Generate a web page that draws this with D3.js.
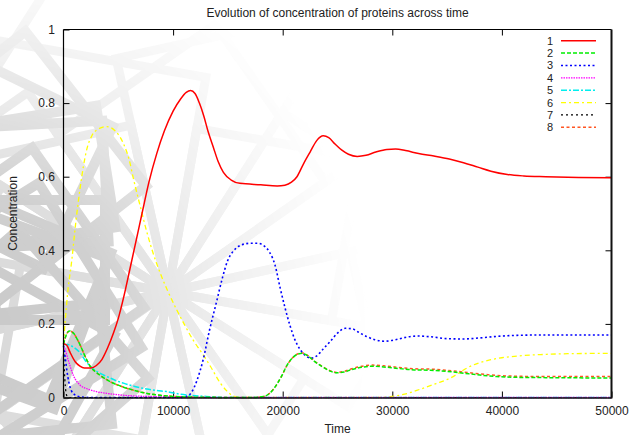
<!DOCTYPE html>
<html>
<head>
<meta charset="utf-8">
<script src="https://cdn.jsdelivr.net/npm/d3@7"></script>
<style>
  html, body { margin: 0; padding: 0; background: #fff; }
  svg { display: block; font-family: "Liberation Sans", Arial, sans-serif; }
</style>
</head>
<body>
<svg id="chart" width="631" height="435"></svg>
<script>
// ---- data: protein concentrations sampled over time, [time, concentration] ----
const seriesNames = ["1", "2", "3", "4", "5", "6", "7", "8"];

const p1 = [[0,0.146],[300,0.142],[610,0.122],[1070,0.097],[1500,0.085],[1900,0.08],[2500,0.08],[3000,0.087],[3500,0.103],[4000,0.133],[4560,0.175],[5000,0.215],[5470,0.27],[6080,0.352],[6690,0.435],[7200,0.505],[7800,0.586],[8500,0.662],[9200,0.724],[10000,0.778],[10700,0.812],[11200,0.829],[11600,0.834],[12000,0.826],[12400,0.8],[12800,0.765],[13200,0.722],[13670,0.68],[14100,0.642],[14590,0.612],[15300,0.591],[16100,0.582],[18000,0.578],[19500,0.575],[20200,0.577],[20800,0.585],[21300,0.6],[21900,0.635],[22500,0.667],[23100,0.698],[23700,0.711],[24200,0.706],[24800,0.688],[25400,0.672],[26000,0.661],[26800,0.655],[27600,0.658],[28500,0.667],[29500,0.674],[30300,0.675],[31200,0.671],[32400,0.663],[33800,0.656],[35200,0.648],[36500,0.638],[37800,0.626],[39000,0.615],[40500,0.606],[42000,0.602],[44000,0.6],[47000,0.598],[50000,0.597]];

const p2 = [[0,0.145],[250,0.17],[550,0.181],[900,0.175],[1400,0.15],[2000,0.11],[2430,0.085],[3000,0.068],[3500,0.057],[4260,0.043],[5300,0.03],[6380,0.02],[7500,0.012],[8500,0.007],[10000,0.003],[12000,0.001],[17000,0],[18300,0.003],[18900,0.014],[19450,0.035],[19900,0.058],[20400,0.088],[20900,0.108],[21400,0.118],[21800,0.12],[22300,0.113],[22900,0.098],[23700,0.082],[24400,0.071],[24900,0.067],[25600,0.069],[26300,0.076],[27200,0.082],[28200,0.085],[29200,0.083],[30500,0.079],[32000,0.075],[33500,0.074],[35000,0.071],[36500,0.066],[38000,0.061],[39500,0.057],[41000,0.055],[44000,0.054],[50000,0.053]];

const p3 = [[0,0.14],[150,0.11],[300,0.075],[500,0.04],[700,0.02],[1000,0.008],[1500,0.002],[2500,0],[10500,0],[11250,0.003],[11700,0.015],[12160,0.045],[12760,0.105],[13300,0.18],[13980,0.262],[14500,0.325],[14950,0.37],[15500,0.398],[16110,0.413],[17000,0.419],[17700,0.419],[18300,0.412],[18800,0.395],[19300,0.36],[19750,0.3],[20200,0.245],[20670,0.195],[21100,0.158],[21600,0.13],[22100,0.113],[22600,0.107],[23100,0.113],[23700,0.132],[24330,0.152],[25000,0.175],[25700,0.188],[26300,0.187],[27000,0.176],[27650,0.166],[28400,0.157],[29300,0.153],[30300,0.157],[31300,0.164],[32300,0.167],[33500,0.165],[35000,0.16],[36500,0.159],[38000,0.162],[39500,0.166],[41500,0.169],[44000,0.17],[50000,0.17]];

const p4 = [[0,0.14],[150,0.13],[450,0.1],[900,0.06],[1500,0.034],[2200,0.023],[3000,0.016],[4000,0.011],[5500,0.006],[7500,0.003],[10000,0.001],[13000,0],[50000,0]];

const p5 = [[0,0.145],[300,0.144],[600,0.142],[1000,0.135],[1520,0.121],[2000,0.1],[2430,0.085],[3200,0.068],[3960,0.057],[4700,0.047],[5470,0.039],[6500,0.03],[7600,0.023],[8500,0.019],[9430,0.016],[10640,0.009],[12000,0.005],[13000,0.003],[14000,0.001],[15000,0],[50000,0]];

const p6 = [[0,0.145],[150,0.205],[400,0.29],[760,0.374],[1100,0.47],[1520,0.57],[2130,0.675],[2600,0.712],[3040,0.727],[3950,0.736],[4700,0.725],[5470,0.69],[6000,0.645],[6400,0.592],[7000,0.52],[7600,0.45],[8200,0.39],[8800,0.34],[9500,0.29],[10300,0.24],[11000,0.2],[11850,0.155],[12700,0.118],[13400,0.085],[14290,0.04],[14900,0.018],[15500,0.004],[16300,0],[28500,0],[30000,0.003],[31500,0.012],[32500,0.022],[34000,0.038],[35300,0.053],[36000,0.065],[36800,0.08],[37800,0.093],[38900,0.102],[40000,0.108],[41500,0.113],[43800,0.117],[46000,0.119],[50000,0.12]];

const p7 = [[0,0.145],[60,0.09],[120,0.05],[200,0.02],[300,0.005],[500,0],[50000,0]];

const p8 = [[0,0.145],[250,0.17],[550,0.181],[900,0.175],[1400,0.15],[2000,0.11],[2430,0.085],[3000,0.068],[3500,0.057],[4260,0.043],[5300,0.03],[6380,0.02],[7500,0.012],[8500,0.007],[10000,0.003],[12000,0.001],[17000,0],[18300,0.003],[18900,0.014],[19450,0.035],[19900,0.058],[20400,0.088],[20900,0.108],[21400,0.119],[21800,0.121],[22300,0.114],[22900,0.099],[23700,0.083],[24400,0.072],[24900,0.068],[25600,0.071],[26300,0.078],[27200,0.085],[28200,0.088],[29200,0.086],[30500,0.082],[32000,0.078],[33500,0.077],[35000,0.074],[36500,0.069],[38000,0.064],[39500,0.06],[41000,0.058],[44000,0.057],[50000,0.057]];

const seriesData = [p1, p2, p3, p4, p5, p6, p7, p8];
const seriesColors = ["#ff0000", "#00ee00", "#0000ff", "#ff00ff", "#00eeee", "#ffff00", "#000000", "#ff5522"];
const seriesDash = [null, "4,2", "2,2.5", "1.5,1", "6,2,2,2", "5,3,2,3", "2,3", "3,2.5"];
const seriesWidth = [1.5, 1.5, 1.6, 1.3, 1.5, 1.3, 1.2, 1.5];

const xTicks = [0, 10000, 20000, 30000, 40000, 50000];
const yTicks = [0, 0.2, 0.4, 0.6, 0.8, 1];

// ---- layout ----
const svg = d3.select("#chart");
const W = 631, H = 435;
const FONT = 12, LEGEND_FONT = 11;
const plot = { left: 63.5, right: 611.5, top: 29.5, bottom: 397.5 };

const x = d3.scaleLinear().domain([0, 50000]).range([plot.left, plot.right]);
const y = d3.scaleLinear().domain([0, 1]).range([plot.bottom, plot.top]);

// ---- decorative backdrop: light square outlines, strongest at the left edge ----
const defs = svg.append("defs");
const grad = defs.append("radialGradient").attr("id", "fadeGrad")
  .attr("gradientUnits", "userSpaceOnUse")
  .attr("cx", -30).attr("cy", 330).attr("r", 400);
grad.append("stop").attr("offset", "0%").attr("stop-color", "#fff").attr("stop-opacity", 1);
grad.append("stop").attr("offset", "35%").attr("stop-color", "#fff").attr("stop-opacity", 0.85);
grad.append("stop").attr("offset", "65%").attr("stop-color", "#fff").attr("stop-opacity", 0.4);
grad.append("stop").attr("offset", "100%").attr("stop-color", "#fff").attr("stop-opacity", 0);
defs.append("mask").attr("id", "fade")
  .append("rect").attr("width", W).attr("height", H).attr("fill", "url(#fadeGrad)");

const backdrop = svg.append("g").attr("mask", "url(#fade)");

// squares pivoting on a shared corner (the pinwheel in the middle)
const pinwheel = d3.range(16).map(i => ({
  cx: 168, cy: 292,
  side: 150 + (i * 47) % 120,
  angle: 100 + i * 22.5
}));
// squares scattered along the left edge
const leftSet = d3.range(12).map(i => ({
  cx: 20 + 25 * Math.cos(i * 2.1),
  cy: 260 + 110 * Math.sin(i * 1.3),
  side: 120 + (i * 37) % 110,
  angle: i * 29
}));

backdrop.selectAll("rect.pin").data(pinwheel).join("rect").attr("class", "pin")
  .attr("x", 0).attr("y", 0)
  .attr("width", d => d.side).attr("height", d => d.side)
  .attr("transform", d => `translate(${d.cx},${d.cy}) rotate(${d.angle})`)
  .attr("fill", "none").attr("stroke", "#d8d8d8").attr("stroke-width", 9);

backdrop.selectAll("rect.edge").data(leftSet).join("rect").attr("class", "edge")
  .attr("x", d => -d.side / 2).attr("y", d => -d.side / 2)
  .attr("width", d => d.side).attr("height", d => d.side)
  .attr("transform", d => `translate(${d.cx},${d.cy}) rotate(${d.angle})`)
  .attr("fill", "none").attr("stroke", "#c8c8c8").attr("stroke-width", 10);

// ---- axes with inward ticks on all four sides ----
const tickFont = g => g.selectAll("text")
  .attr("font-size", FONT).attr("fill", "#222")
  .attr("font-family", "'Liberation Sans', Arial, sans-serif");

const gx = svg.append("g").attr("transform", `translate(0,${plot.bottom})`)
  .call(d3.axisBottom(x).tickValues(xTicks).tickFormat(d3.format("d"))
    .tickSizeInner(-6).tickSizeOuter(0).tickPadding(8.5));
gx.select(".domain").remove();
gx.call(tickFont);
gx.selectAll("line").attr("stroke", "#000");

const gxTop = svg.append("g").attr("transform", `translate(0,${plot.top})`)
  .call(d3.axisTop(x).tickValues(xTicks.slice(1, -1)).tickFormat("")
    .tickSizeInner(-6).tickSizeOuter(0));
gxTop.select(".domain").remove();
gxTop.selectAll("line").attr("stroke", "#000");

const gy = svg.append("g").attr("transform", `translate(${plot.left},0)`)
  .call(d3.axisLeft(y).tickValues(yTicks).tickFormat(d => String(d))
    .tickSizeInner(-6).tickSizeOuter(0).tickPadding(8.5));
gy.select(".domain").remove();
gy.call(tickFont);
gy.selectAll("line").attr("stroke", "#000");

const gyRight = svg.append("g").attr("transform", `translate(${plot.right},0)`)
  .call(d3.axisRight(y).tickValues(yTicks.slice(1, -1)).tickFormat("")
    .tickSizeInner(-6).tickSizeOuter(0));
gyRight.select(".domain").remove();
gyRight.selectAll("line").attr("stroke", "#000");

// ---- series ----
const line = d3.line()
  .x(d => x(d[0]))
  .y(d => y(d[1]))
  .curve(d3.curveMonotoneX);

const gLines = svg.append("g");
// draw in reverse so series 1 ends up on top
d3.range(seriesData.length).reverse().forEach(i => {
  gLines.append("path")
    .datum(seriesData[i])
    .attr("d", line)
    .attr("fill", "none")
    .attr("stroke", seriesColors[i])
    .attr("stroke-width", seriesWidth[i])
    .attr("stroke-dasharray", seriesDash[i]);
});

// ---- frame ----
svg.append("line").attr("x1", plot.left).attr("x2", plot.right).attr("y1", plot.top).attr("y2", plot.top)
  .attr("stroke", "#000").attr("stroke-width", 1.2);
svg.append("line").attr("x1", plot.left).attr("x2", plot.left).attr("y1", plot.top).attr("y2", plot.bottom)
  .attr("stroke", "#000").attr("stroke-width", 1.2);
svg.append("line").attr("x1", plot.right).attr("x2", plot.right).attr("y1", plot.top).attr("y2", plot.bottom + 1)
  .attr("stroke", "#111").attr("stroke-width", 2);
svg.append("line").attr("x1", plot.left).attr("x2", plot.right).attr("y1", plot.bottom + 0.5).attr("y2", plot.bottom + 0.5)
  .attr("stroke", "#111").attr("stroke-width", 1.5);

// ---- titles ----
svg.append("text")
  .attr("x", (plot.left + plot.right) / 2).attr("y", 16.5)
  .attr("text-anchor", "middle").attr("font-size", FONT).attr("fill", "#222")
  .text("Evolution of concentration of proteins across time");

svg.append("text")
  .attr("x", (plot.left + plot.right) / 2).attr("y", 432.5)
  .attr("text-anchor", "middle").attr("font-size", FONT).attr("fill", "#222")
  .text("Time");

svg.append("text")
  .attr("transform", `translate(17,${(plot.top + plot.bottom) / 2}) rotate(-90)`)
  .attr("text-anchor", "middle").attr("font-size", FONT).attr("fill", "#222")
  .text("Concentration");

// ---- legend ----
const legend = svg.append("g");
const legendRow = d3.scaleLinear().domain([0, 1]).range([40.7, 53.07]);
seriesNames.forEach((name, i) => {
  const cy = legendRow(i);
  legend.append("text")
    .attr("x", 553).attr("y", cy).attr("dy", "0.36em")
    .attr("text-anchor", "end").attr("font-size", LEGEND_FONT).attr("fill", "#222")
    .text(name);
  legend.append("line")
    .attr("x1", 561).attr("x2", 596).attr("y1", cy).attr("y2", cy)
    .attr("stroke", seriesColors[i])
    .attr("stroke-width", seriesWidth[i])
    .attr("stroke-dasharray", seriesDash[i]);
});
</script>
</body>
</html>
